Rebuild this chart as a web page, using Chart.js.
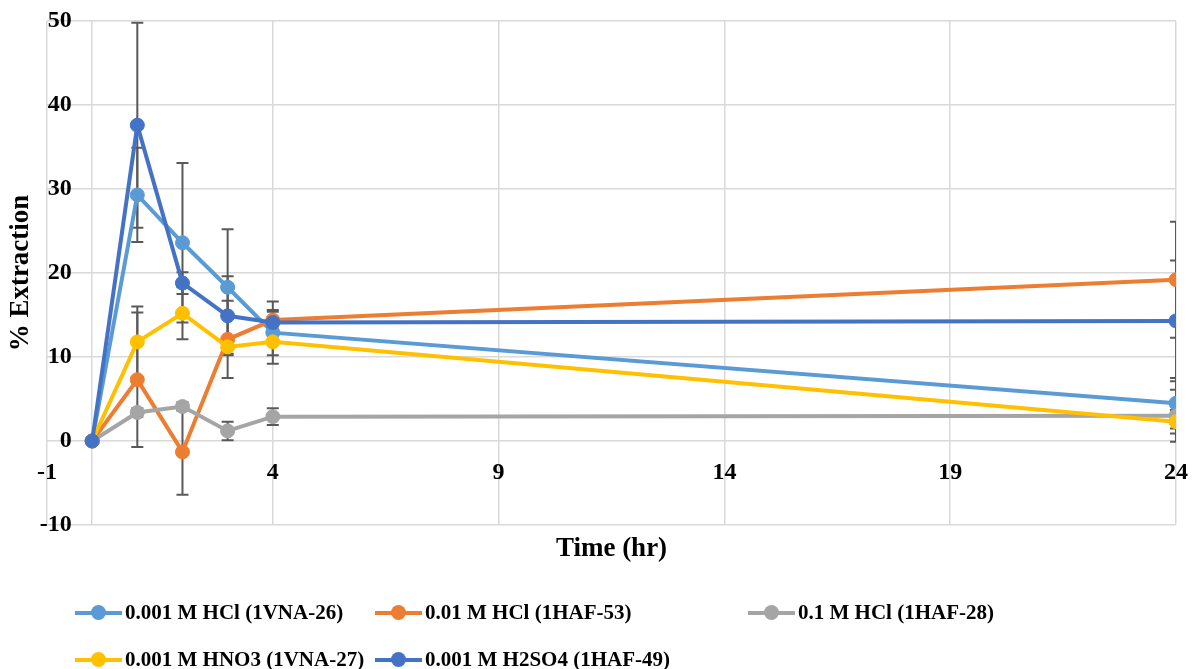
<!DOCTYPE html>
<html>
<head>
<meta charset="utf-8">
<title>% Extraction vs Time</title>
<script src="https://cdn.jsdelivr.net/npm/chart.js@4.4.1/dist/chart.umd.min.js"></script>
<style>
  html, body { margin: 0; padding: 0; background: #ffffff; }
  #wrap { position: relative; width: 1192px; height: 669px; }
  #legend {
    position: absolute; left: 75px; top: 589px;
    display: grid; grid-template-columns: 300px 373px auto; grid-auto-rows: 47px;
    align-items: center;
    font: bold 21px "Liberation Serif", "Times New Roman", serif; color: #000;
  }
  .item { display: flex; align-items: center; white-space: nowrap; }
  .sym { position: relative; width: 47px; height: 4px; margin-right: 3px; flex: none; }
  .sym i { position: absolute; left: 50%; top: 50%; width: 15px; height: 15px;
           margin: -7.5px 0 0 -7.5px; border-radius: 50%; }
</style>
</head>
<body>
<div id="wrap">
  <canvas id="chart"></canvas>
  <div id="legend"></div>
</div>
<script>
// Sampling times (hr)
const timeHr = [0, 1, 2, 3, 4, 24];
const xTickValues = [-1, 4, 9, 14, 19, 24];

// Series labels
const seriesNames = [
  '0.001 M HCl (1VNA-26)',
  '0.01 M HCl (1HAF-53)',
  '0.1 M HCl (1HAF-28)',
  '0.001 M HNO3 (1VNA-27)',
  '0.001 M H2SO4 (1HAF-49)'
];

// % extraction per leachant
const hcl0001 = [0, 29.3, 23.6, 18.3, 12.9, 4.5];
const hcl001  = [0, 7.3, -1.3, 12.1, 14.4, 19.2];
const hcl01   = [0, 3.4, 4.1, 1.2, 2.9, 3.0];
const hno3    = [0, 11.8, 15.2, 11.2, 11.8, 2.3];
const h2so4   = [0, 37.6, 18.8, 14.9, 14.1, 14.3];

// Error bar half-widths (± % extraction)
const hcl0001Err = [0, 5.6, 9.5, 6.9, 2.7, 3.0];
const hcl001Err  = [0, 8.0, 5.1, 4.6, 1.0, 6.9];
const hcl01Err   = [0, 0.5, 0.5, 1.1, 1.0, 3.1];
const hno3Err    = [0, 4.2, 3.1, 0.8, 2.6, 1.4];
const h2so4Err   = [0, 12.2, 1.3, 4.7, 2.5, 7.2];

const seriesValues = [hcl0001, hcl001, hcl01, hno3, h2so4];
const seriesErrors = [hcl0001Err, hcl001Err, hcl01Err, hno3Err, h2so4Err];
const seriesColors = ['#5B9BD5', '#ED7D31', '#A5A5A5', '#FFC000', '#4472C4'];

// value-axis labels sit just left of the t = 0 line
const yLabelAnchor = -0.45;

const FONT = '"Liberation Serif", "Times New Roman", serif';
Chart.defaults.font.family = FONT;
Chart.defaults.color = '#000000';

const datasets = seriesValues.map((vals, i) => ({
  label: seriesNames[i],
  data: timeHr.map((t, k) => ({ x: t, y: vals[k] })),
  borderColor: seriesColors[i],
  backgroundColor: seriesColors[i],
  pointBackgroundColor: seriesColors[i],
  pointBorderColor: seriesColors[i],
  borderWidth: 4,
  pointRadius: 7,
  pointBorderWidth: 1,
  tension: 0,
  // later series are painted over earlier ones
  order: seriesValues.length - 1 - i
}));

// Vertical error bars with caps, painted beneath the lines and markers
const errorBars = {
  id: 'errorBars',
  beforeDatasetsDraw(chart) {
    const { ctx, chartArea, scales } = chart;
    const xs = scales.x, ys = scales.y;
    ctx.save();
    ctx.beginPath();
    ctx.rect(chartArea.left, chartArea.top, chartArea.width, chartArea.height);
    ctx.clip();
    ctx.strokeStyle = '#595959';
    ctx.lineWidth = 2;
    seriesValues.forEach((vals, si) => {
      if (!chart.isDatasetVisible(si)) return;
      seriesErrors[si].forEach((e, k) => {
        if (!e) return;
        const px = xs.getPixelForValue(timeHr[k]);
        const top = ys.getPixelForValue(vals[k] + e);
        const bot = ys.getPixelForValue(vals[k] - e);
        ctx.beginPath();
        ctx.moveTo(px, top); ctx.lineTo(px, bot);
        ctx.moveTo(px - 6, top); ctx.lineTo(px + 6, top);
        ctx.moveTo(px - 6, bot); ctx.lineTo(px + 6, bot);
        ctx.stroke();
      });
    });
    ctx.restore();
  }
};

// Legend rendered as HTML below the plot
const htmlLegend = {
  id: 'htmlLegend',
  afterUpdate(chart) {
    const box = document.getElementById('legend');
    box.innerHTML = '';
    chart.data.datasets.forEach((ds) => {
      const item = document.createElement('div');
      item.className = 'item';
      const sym = document.createElement('span');
      sym.className = 'sym';
      sym.style.background = ds.borderColor;
      const dot = document.createElement('i');
      dot.style.background = ds.borderColor;
      sym.appendChild(dot);
      const txt = document.createElement('span');
      txt.textContent = ds.label;
      item.appendChild(sym);
      item.appendChild(txt);
      box.appendChild(item);
    });
  }
};

const gridColor = '#D9D9D9';

new Chart(document.getElementById('chart'), {
  type: 'line',
  data: { datasets },
  plugins: [errorBars, htmlLegend],
  options: {
    responsive: true,
    maintainAspectRatio: false,
    animation: false,
    layout: { padding: { left: 0, top: 21, right: 16, bottom: 103.6 } },
    plugins: {
      legend: { display: false },
      tooltip: { enabled: false },
      title: {
        display: true,
        text: 'Time (hr)',
        position: 'bottom',
        fullSize: false,
        color: '#000',
        font: { size: 27, weight: 'bold', family: FONT },
        padding: { top: 8, bottom: 0 }
      }
    },
    scales: {
      x: {
        type: 'linear',
        min: -1,
        max: 24,
        position: { y: 0 },
        afterBuildTicks(scale) {
          scale.ticks = xTickValues.concat([0]).sort((a, b) => a - b).map(v => ({ value: v }));
        },
        afterFit(scale) { scale.paddingLeft = 0; scale.paddingRight = 0; },
        ticks: {
          autoSkip: false,
          maxRotation: 0,
          padding: 17,
          color: '#000',
          font: { size: 24, weight: 'bold', family: FONT },
          callback: (v) => (xTickValues.includes(v) ? String(v) : '')
        },
        grid: { color: gridColor, lineWidth: 1.5, drawTicks: false },
        border: { display: false }
      },
      // value axis, labelled next to the t = 0 line
      y: {
        type: 'linear',
        min: -10,
        max: 50,
        position: { x: yLabelAnchor },
        afterFit(scale) { scale.paddingTop = 0; scale.paddingBottom = 0; },
        ticks: {
          stepSize: 10,
          padding: 0,
          color: '#000',
          font: { size: 24, weight: 'bold', family: FONT }
        },
        grid: { color: gridColor, lineWidth: 1.5, drawTicks: false },
        border: { display: false }
      },
      // outer left band carrying the axis title
      yTitle: {
        type: 'linear',
        min: -10,
        max: 50,
        position: 'left',
        afterFit(scale) { scale.width = 47; },
        ticks: { display: false },
        grid: { display: false },
        border: { display: false },
        title: {
          display: true,
          text: '% Extraction',
          color: '#000',
          font: { size: 27, weight: 'bold', family: FONT },
          padding: { top: 5, bottom: 0 }
        }
      }
    }
  }
});
</script>
</body>
</html>
